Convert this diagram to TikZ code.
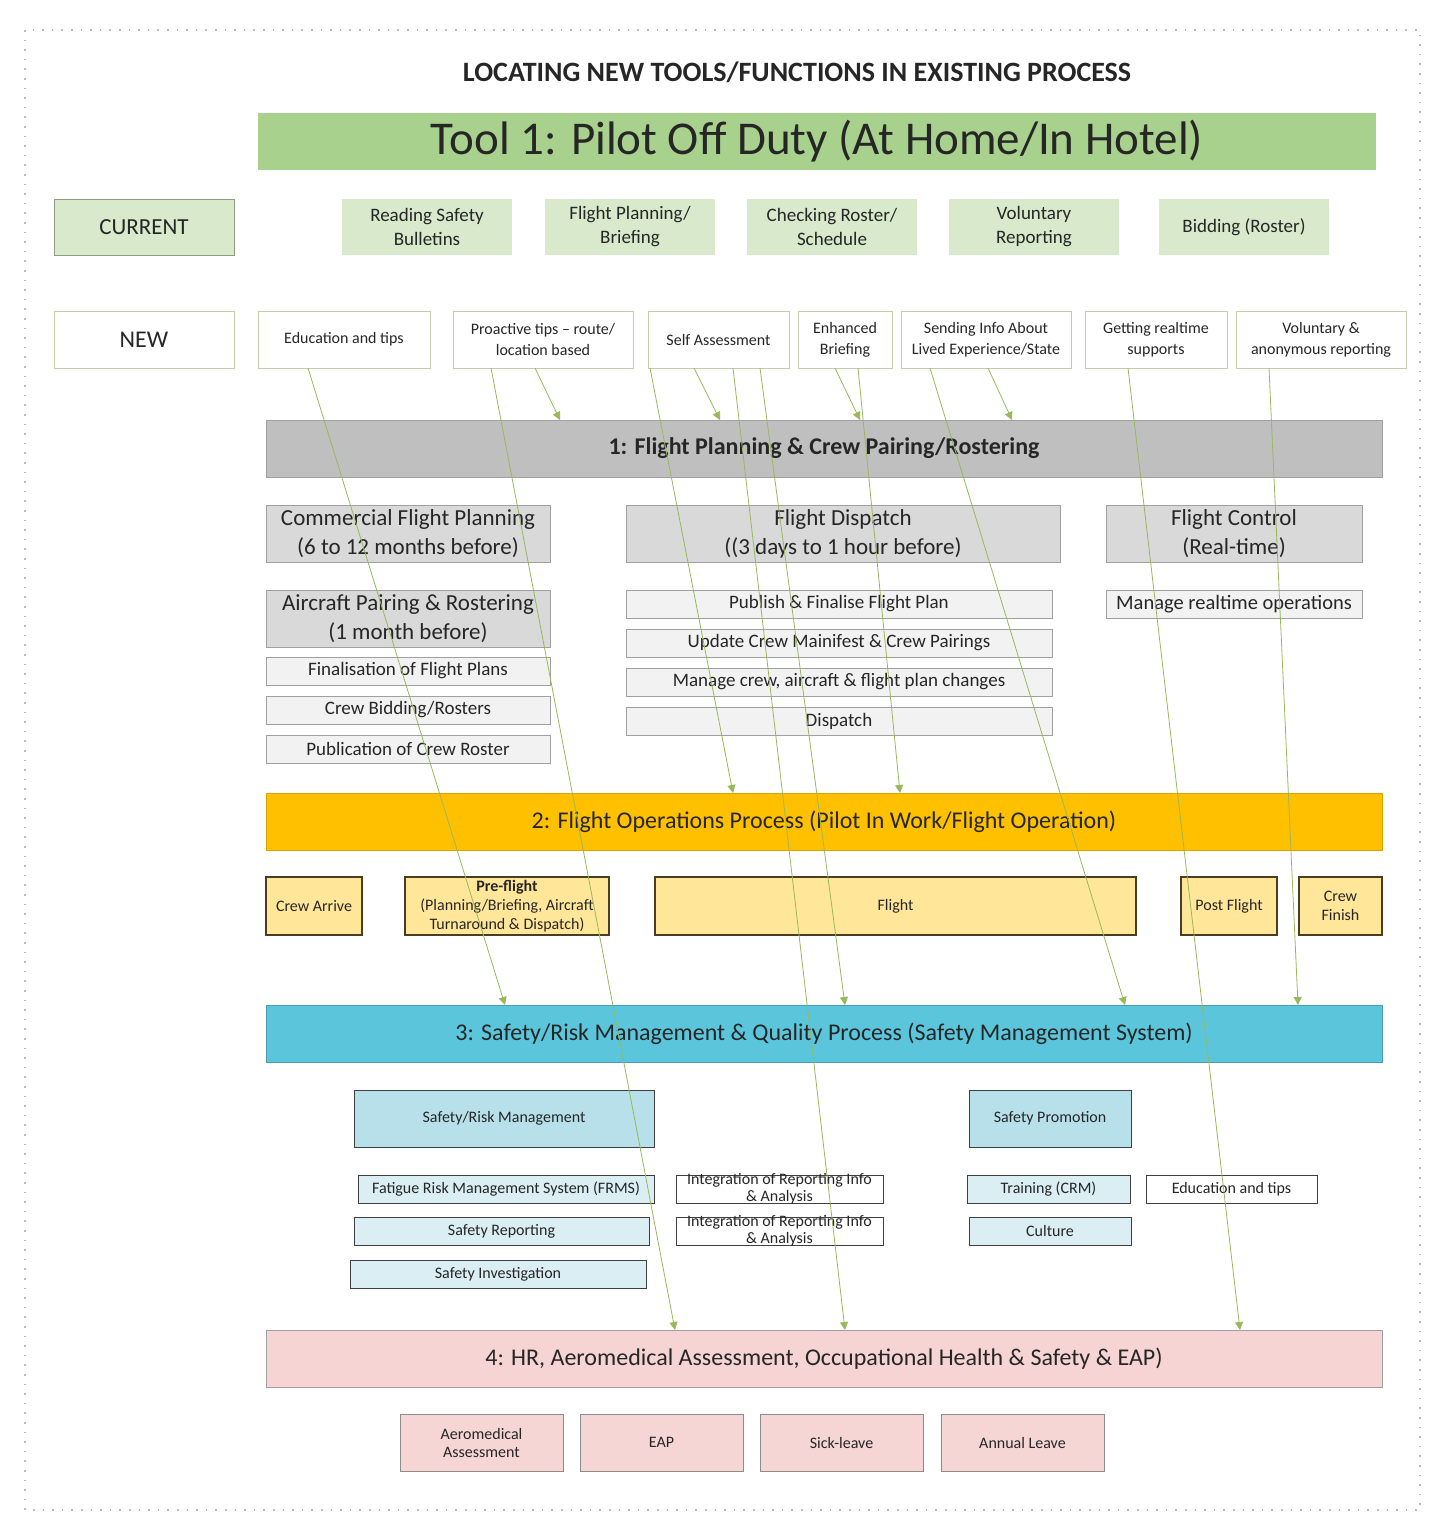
\documentclass[tikz,border=0pt]{standalone}
\usepackage{fontspec}
\setmainfont{Carlito}
\usepackage{xcolor}
\usepackage{tikz}
\usetikzlibrary{arrows.meta,positioning}
\definecolor{bannergreen}{HTML}{A9D18E}
\definecolor{curgreen}{HTML}{D8E9CC}
\definecolor{curedge}{HTML}{8E9A84}
\definecolor{newedge}{HTML}{C3CDA8}
\definecolor{barone}{HTML}{BFBFBF}
\definecolor{subgray}{HTML}{D9D9D9}
\definecolor{itemgray}{HTML}{F2F2F2}
\definecolor{grayedge}{HTML}{A0A0A0}
\definecolor{bartwo}{HTML}{FFC000}
\definecolor{opyellow}{HTML}{FFE699}
\definecolor{opedge}{HTML}{4A3D20}
\definecolor{barthree}{HTML}{5BC6DB}
\definecolor{smsblue}{HTML}{B7E0EA}
\definecolor{smslight}{HTML}{DAEEF3}
\definecolor{smsedge}{HTML}{3F3F3F}
\definecolor{barfour}{HTML}{F7D4D4}
\definecolor{hrpink}{HTML}{F6D5D5}
\definecolor{hredge}{HTML}{8C8C8C}
\definecolor{linkgreen}{HTML}{98B85A}
\definecolor{txtdark}{HTML}{262626}
\tikzset{
  every node/.style={inner sep=2pt,outer sep=0pt,text=txtdark},
  curbox/.style={fill=curgreen,minimum width=170pt,minimum height=56pt,
    align=center,font=\fontsize{19}{24}\selectfont},
  newbox/.style={draw=newedge,line width=1pt,fill=white,minimum height=57pt,
    align=center,font=\fontsize{16}{21}\selectfont},
  procbar/.style={draw=grayedge,minimum width=1116pt,minimum height=57pt,
    font=\fontsize{24}{28}\selectfont},
  planbox/.style={draw=grayedge,line width=1pt,fill=subgray,minimum height=57pt,
    align=center,font=\fontsize{23}{29}\selectfont},
  planitem/.style={draw=grayedge,line width=1pt,fill=itemgray,minimum height=28pt,
    font=\fontsize{19}{20}\selectfont},
  opbox/.style={draw=opedge,line width=1.5pt,fill=opyellow,minimum height=58pt,
    align=center,font=\fontsize{16}{19}\selectfont},
  smsbox/.style={draw=smsedge,line width=1pt,fill=smsblue,minimum height=57pt,
    font=\fontsize{16}{19}\selectfont},
  smsitem/.style={draw=smsedge,line width=1pt,fill=smslight,minimum height=28pt,
    font=\fontsize{16}{18}\selectfont},
  hrbox/.style={draw=hredge,line width=1pt,fill=hrpink,minimum width=163pt,
    minimum height=57pt,align=center,font=\fontsize{16}{18}\selectfont},
  linkarrow/.style={-{Triangle[length=8pt,width=8pt]},draw=linkgreen,line width=0.8pt}
}
\begin{document}
\begin{tikzpicture}[x=1pt,y=-1pt]
\useasboundingbox (0,0) rectangle (1446,1535);
\draw[gray!55,line width=1.6pt,dash pattern=on 1.6pt off 8pt] (25,30) rectangle (1420,1510);

% title and tool banner
\node[font=\bfseries\fontsize{28}{32}\selectfont] (title) at (797,72)
  {LOCATING NEW TOOLS/FUNCTIONS IN EXISTING PROCESS};
\node[fill=bannergreen,minimum width=1118pt,minimum height=57pt,anchor=north west,
  font=\fontsize{47}{50}\selectfont] (tool) at (258,113) {Tool 1: Pilot Off Duty (At Home/In Hotel)};

% current row
\node[curbox,draw=curedge,line width=1pt,minimum width=180pt,anchor=north west,
  font=\fontsize{23}{26}\selectfont] (current) at (54,199) {CURRENT};
\node[curbox,anchor=north west] (bulletins) at (342,199) {Reading Safety\\Bulletins};
\node[curbox,right=33pt of bulletins] (briefing) {Flight Planning/\\Briefing};
\node[curbox,right=32pt of briefing] (roster) {Checking Roster/\\Schedule};
\node[curbox,right=32pt of roster] (volrep) {Voluntary\\Reporting};
\node[curbox,right=40pt of volrep] (bidding) {Bidding (Roster)};

% new row
\node[newbox,minimum width=180pt,anchor=north west,font=\fontsize{24}{26}\selectfont] (new) at (54,311) {NEW};
\node[newbox,minimum width=172pt,anchor=north west] (edu) at (258,311) {Education and tips};
\node[newbox,minimum width=180pt,anchor=north west] (proactive) at (453,311) {Proactive tips -- route/\\location based};
\node[newbox,minimum width=141pt,anchor=north west] (selfassess) at (648,311) {Self Assessment};
\node[newbox,minimum width=94pt,anchor=north west] (enhanced) at (798,311) {Enhanced\\Briefing};
\node[newbox,minimum width=170pt,anchor=north west] (sending) at (901,311) {Sending Info About\\Lived Experience/State};
\node[newbox,minimum width=142pt,anchor=north west] (realtime) at (1085,311) {Getting realtime\\supports};
\node[newbox,minimum width=170pt,anchor=north west] (anonymous) at (1236,311) {Voluntary \&\\anonymous reporting};

% 1: flight planning
\node[procbar,fill=barone,anchor=north west,font=\bfseries\fontsize{24}{28}\selectfont] (planning) at (266,420)
  {1: Flight Planning \& Crew Pairing/Rostering};
\node[planbox,minimum width=284pt,anchor=north west] (commercial) at (266,505) {Commercial Flight Planning\\(6 to 12 months before)};
\node[planbox,minimum width=434pt,anchor=north west] (dispatch) at (626,505) {Flight Dispatch\\((3 days to 1 hour before)};
\node[planbox,minimum width=256pt,anchor=north west] (control) at (1106,505) {Flight Control\\(Real-time)};
\node[planbox,minimum width=284pt,anchor=north west] (pairing) at (266,590) {Aircraft Pairing \& Rostering\\(1 month before)};
\node[planitem,minimum width=284pt,below=10pt of pairing] (finalisation) {Finalisation of Flight Plans};
\node[planitem,minimum width=284pt,below=11pt of finalisation] (bidrosters) {Crew Bidding/Rosters};
\node[planitem,minimum width=284pt,below=11pt of bidrosters] (publication) {Publication of Crew Roster};
\node[planitem,minimum width=426pt,anchor=north west] (publish) at (626,590) {Publish \& Finalise Flight Plan};
\node[planitem,minimum width=426pt,below=11pt of publish] (manifest) {Update Crew Mainifest \& Crew Pairings};
\node[planitem,minimum width=426pt,below=11pt of manifest] (changes) {Manage crew, aircraft \& flight plan changes};
\node[planitem,minimum width=426pt,below=11pt of changes] (dispatchitem) {Dispatch};
\node[planitem,minimum width=256pt,anchor=north west,font=\fontsize{20.5}{22}\selectfont] (operations) at (1106,590) {Manage realtime operations};

% 2: flight operations
\node[procbar,fill=bartwo,draw=bartwo!85!black,anchor=north west] (flightops) at (266,793)
  {2: Flight Operations Process (Pilot In Work/Flight Operation)};
\node[opbox,minimum width=96pt,anchor=north west] (arrive) at (266,877) {Crew Arrive};
\node[opbox,minimum width=204pt,anchor=north west] (preflight) at (405,877)
  {\textbf{Pre-flight}\\(Planning/Briefing, Aircraft\\Turnaround \& Dispatch)};
\node[opbox,minimum width=481pt,anchor=north west] (flight) at (655,877) {Flight};
\node[opbox,minimum width=96pt,anchor=north west] (postflight) at (1181,877) {Post Flight};
\node[opbox,minimum width=83pt,anchor=north west] (finish) at (1299,877) {Crew\\Finish};

% 3: safety management system
\node[procbar,fill=barthree,draw=barthree!80!black,anchor=north west] (safety) at (266,1005)
  {3: Safety/Risk Management \& Quality Process (Safety Management System)};
\node[smsbox,minimum width=300pt,anchor=north west] (riskmgmt) at (354,1090) {Safety/Risk Management};
\node[smsbox,minimum width=162pt,anchor=north west] (promotion) at (969,1090) {Safety Promotion};
\node[smsitem,minimum width=296pt,anchor=north west] (frms) at (358,1175) {Fatigue Risk Management System (FRMS)};
\node[smsitem,minimum width=295pt,anchor=north west] (reporting) at (354,1217) {Safety Reporting};
\node[smsitem,minimum width=296pt,anchor=north west] (investigation) at (350,1260) {Safety Investigation};
\node[smsitem,fill=white,minimum width=207pt,anchor=north west,
  label={[font=\fontsize{16}{17}\selectfont,align=center]center:Integration of Reporting Info\\\& Analysis}] (integration) at (676,1175) {};
\node[smsitem,fill=white,minimum width=207pt,anchor=north west,
  label={[font=\fontsize{16}{17}\selectfont,align=center]center:Integration of Reporting Info\\\& Analysis}] (integrationb) at (676,1217) {};
\node[smsitem,minimum width=163pt,anchor=north west] (training) at (967,1175) {Training (CRM)};
\node[smsitem,fill=white,minimum width=171pt,anchor=north west] (edutips) at (1146,1175) {Education and tips};
\node[smsitem,minimum width=162pt,anchor=north west] (culture) at (969,1217) {Culture};

% 4: HR and health
\node[procbar,fill=barfour,anchor=north west] (health) at (266,1330)
  {4: HR, Aeromedical Assessment, Occupational Health \& Safety \& EAP)};
\node[hrbox,anchor=north west] (aeromed) at (400,1414) {Aeromedical\\Assessment};
\node[hrbox,right=17pt of aeromed] (eap) {EAP};
\node[hrbox,right=17pt of eap] (sickleave) {Sick-leave};
\node[hrbox,right=18pt of sickleave] (annual) {Annual Leave};

% links from new tools into the processes
\draw[linkarrow] ([xshift=50pt]edu.south west) -- ([xshift=239pt]safety.north west);
\draw[linkarrow] ([xshift=38pt]proactive.south west) -- ([xshift=409pt]health.north west);
\draw[linkarrow] ([xshift=82pt]proactive.south west) -- ([xshift=294pt]planning.north west);
\draw[linkarrow] ([xshift=2pt]selfassess.south west) -- ([xshift=467pt]flightops.north west);
\draw[linkarrow] ([xshift=46pt]selfassess.south west) -- ([xshift=454pt]planning.north west);
\draw[linkarrow] ([xshift=85pt]selfassess.south west) -- ([xshift=579pt]health.north west);
\draw[linkarrow] ([xshift=112pt]selfassess.south west) -- ([xshift=579pt]safety.north west);
\draw[linkarrow] ([xshift=37pt]enhanced.south west) -- ([xshift=594pt]planning.north west);
\draw[linkarrow] ([xshift=60pt]enhanced.south west) -- ([xshift=634pt]flightops.north west);
\draw[linkarrow] ([xshift=29pt]sending.south west) -- ([xshift=859pt]safety.north west);
\draw[linkarrow] ([xshift=87pt]sending.south west) -- ([xshift=746pt]planning.north west);
\draw[linkarrow] ([xshift=43pt]realtime.south west) -- ([xshift=974pt]health.north west);
\draw[linkarrow] ([xshift=33pt]anonymous.south west) -- ([xshift=1032pt]safety.north west);
\end{tikzpicture}
\end{document}
